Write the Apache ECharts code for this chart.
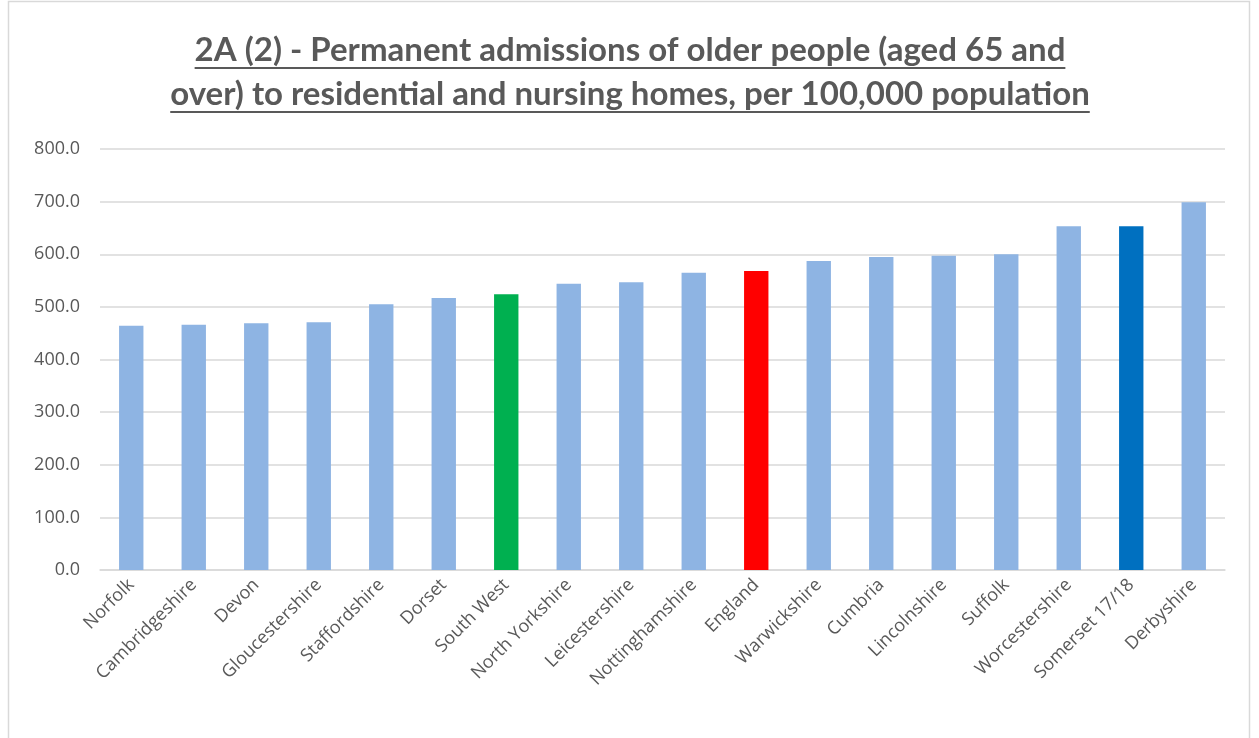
<!DOCTYPE html>
<html><head><meta charset="utf-8">
<script src="https://cdn.jsdelivr.net/npm/echarts@6/dist/echarts.min.js"></script>
<style>html,body{margin:0;padding:0;background:#fff}#c{width:1259px;height:738px}</style>
</head><body><div id="c"></div>
<script>
const titleLines = ["2A (2) - Permanent admissions of older people (aged 65 and", "over) to residential and nursing homes, per 100,000 population"];
const categories = ["Norfolk","Cambridgeshire","Devon","Gloucestershire","Staffordshire","Dorset","South West","North Yorkshire","Leicestershire","Nottinghamshire","England","Warwickshire","Cumbria","Lincolnshire","Suffolk","Worcestershire","Somerset 17/18","Derbyshire"];
const values = [464, 466, 469, 471, 505, 517, 524, 544, 547, 565, 568, 587, 595, 597, 600, 653, 653, 699];
const highlight = {"South West": "#00B050", "England": "#FF0000", "Somerset 17/18": "#0070C0"};
const baseColor = "#8EB4E3";

const chart = echarts.init(document.getElementById('c'), null, {renderer: 'canvas'});
const titleFont = 'bold 33px Lato';
const cv = document.createElement('canvas').getContext('2d');
cv.font = titleFont;
const cx = 630;
const lineYs = [50, 94];
const graphics = [{type:'rect', shape:{x:8.5, y:1.5, width:1241, height:745}, style:{fill:'none', stroke:'#d9d9d9', lineWidth:1.5}, silent:true}];
titleLines.forEach((t, i) => {
  const w = cv.measureText(t).width;
  graphics.push({type:'text', style:{text:t, x:cx, y:lineYs[i], align:'center', verticalAlign:'middle', font:titleFont, fill:'#595959'}});
  graphics.push({type:'rect', shape:{x:cx - w/2, y:lineYs[i] + 17, width:w, height:2}, style:{fill:'#595959'}});
});

chart.setOption({
  animation: false,
  graphic: graphics,
  grid: {left: 100, right: 34, top: 149, bottom: 168, containLabel: false},
  xAxis: {
    type: 'category', data: categories,
    axisLine: {lineStyle: {color: '#d9d9d9', width: 1.5}},
    axisTick: {show: false},
    axisLabel: {rotate: 45, interval: 0, color: '#595959', fontFamily: 'Open Sans', fontSize: 18, margin: 12}
  },
  yAxis: {
    type: 'value', min: 0, max: 800, interval: 100,
    axisLine: {show: false}, axisTick: {show: false},
    splitLine: {lineStyle: {color: '#d9d9d9', width: 1.5}},
    axisLabel: {color: '#595959', fontFamily: 'Open Sans', fontSize: 18, margin: 20, formatter: v => v.toFixed(1)}
  },
  series: [{
    type: 'bar', barWidth: '39%',
    data: values.map((v, i) => ({value: v, itemStyle: {color: highlight[categories[i]] || baseColor}}))
  }]
});
</script></body></html>
